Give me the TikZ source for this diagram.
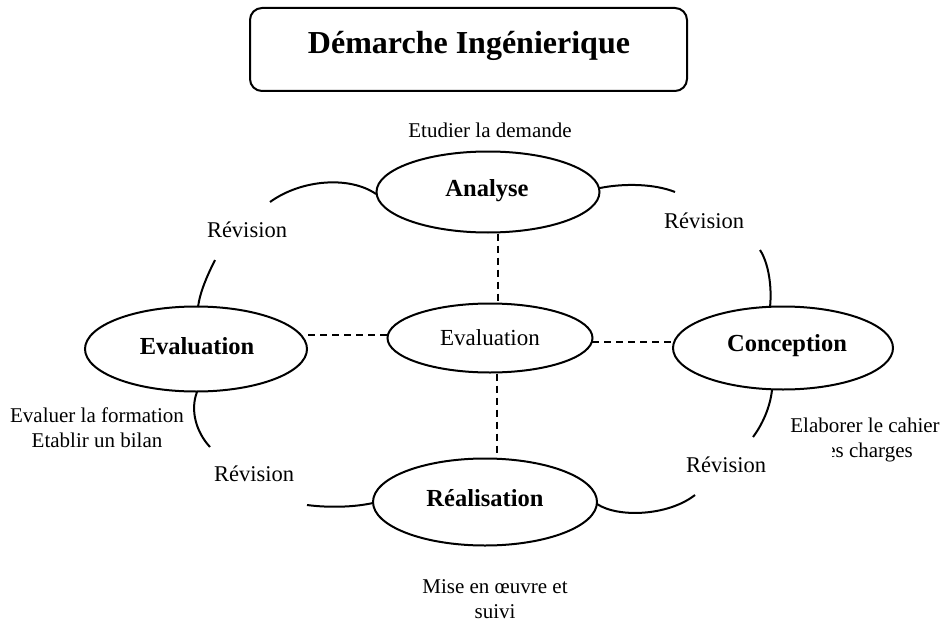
\documentclass[tikz,border=0pt]{standalone}
\usepackage{fontspec}
\setmainfont{Liberation Serif}
\usetikzlibrary{shapes.geometric}
\begin{document}
\begin{tikzpicture}[x=1pt,y=-1pt,
  phase/.style={draw,ellipse,line width=2pt,inner sep=0pt},
  bold/.style={inner sep=0pt,font=\fontsize{24.5}{28}\selectfont\bfseries},
  lbl/.style={inner sep=0pt,align=center,font=\fontsize{21}{25}\selectfont},
  rev/.style={inner sep=0pt,font=\fontsize{22.5}{26}\selectfont},
  arc/.style={line width=2pt},
  dsh/.style={line width=1.3pt,dash pattern=on 7pt off 5pt}]
\useasboundingbox (0,0) rectangle (941,623);
\fill[white] (0,0) rectangle (941,623);
% title
\node[draw,line width=2pt,rounded corners=12pt,minimum width=437pt,minimum height=83pt,inner sep=0pt] (title) at (468.5,49.5) {};
\node[inner sep=0pt,font=\fontsize{32}{36}\selectfont\bfseries] (titletext) at (469,46) {Démarche Ingénierique};
% ellipses
\node[phase,minimum width=223pt,minimum height=81pt] (ana) at (488,192) {};
\node[bold] (anat) at (487,191) {Analyse};
\node[phase,minimum width=205pt,minimum height=69pt] (cen) at (490,338) {};
\node[inner sep=0pt,font=\fontsize{23}{27}\selectfont] (cent) at (490,338) {Evaluation};
\node[phase,minimum width=222pt,minimum height=85pt] (eva) at (196,349) {};
\node[bold] (evat) at (197,346) {Evaluation};
\node[phase,minimum width=220pt,minimum height=83pt] (con) at (783,348) {};
\node[bold] (cont) at (787,346) {Conception};
\node[phase,minimum width=224pt,minimum height=87pt] (rea) at (485,502) {};
\node[bold] (reat) at (485,498) {Réalisation};
% dashed links
\draw[dsh] (ana.south -| 498,0) -- (cen.north -| 498,0);
\draw[dsh] (cen.south -| 497,0) -- (rea.north -| 497,0);
\draw[dsh] (eva.east) ++(0,-14) coordinate (e1) -- (cen.west |- e1);
\coordinate (c1) at (592,342);
\draw[dsh] (c1) -- (con.west |- c1);
% arcs
\coordinate (a1s) at (376,194);
\coordinate (a1e) at (270,202);
\draw[arc] (a1s) .. controls (350,176) and (302,179) .. (a1e);
\coordinate (a2s) at (215,260);
\coordinate (a2e) at (198,307);
\draw[arc] (a2s) .. controls (207,276) and (200,292) .. (a2e);
\coordinate (a3s) at (600,188);
\coordinate (a3e) at (675,192);
\draw[arc] (a3s) .. controls (625,183) and (655,184) .. (a3e);
\coordinate (a4s) at (760,250);
\coordinate (a4e) at (770,307);
\draw[arc] (a4s) .. controls (769,264) and (772,288) .. (a4e);
\coordinate (a5s) at (772,390);
\coordinate (a5e) at (753,437);
\draw[arc] (a5s) .. controls (770,408) and (762,425) .. (a5e);
\coordinate (a6s) at (597,504);
\coordinate (a6e) at (695,495);
\draw[arc] (a6s) .. controls (618,518) and (668,516) .. (a6e);
\coordinate (a7s) at (307,505);
\coordinate (a7e) at (373,503);
\draw[arc] (a7s) .. controls (330,508) and (355,507) .. (a7e);
\coordinate (a8s) at (197,392);
\coordinate (a8e) at (210,447);
\draw[arc] (a8s) .. controls (190,410) and (196,432) .. (a8e);
% labels
\node[lbl] (etu) at (490,130) {Etudier la demande};
\node[rev] (r1) at (247,230) {Révision};
\node[rev] (r2) at (704,221) {Révision};
\node[rev] (r3) at (254,474) {Révision};
\node[rev] (r4) at (726,465) {Révision};
\node[lbl] (evl) at (97,427.5) {Evaluer la formation\\Etablir un bilan};
\node[lbl] (mise) at (495,599) {Mise en œuvre et\\suivi};
\node[lbl] (ela) at (865,425) {Elaborer le cahier};
\begin{scope}
\clip (832,436) rectangle (941,470);
\node[lbl,anchor=east] (des) at (913,452) {des charges};
\end{scope}
\end{tikzpicture}
\end{document}
